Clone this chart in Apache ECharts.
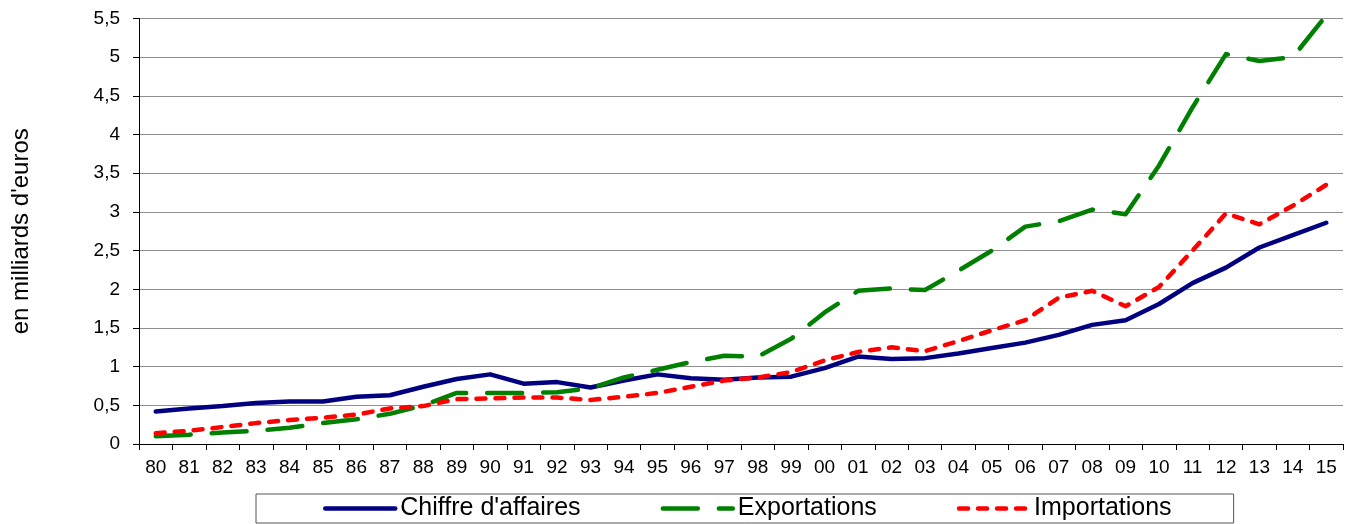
<!DOCTYPE html>
<html>
<head>
<meta charset="utf-8">
<script src="https://cdn.jsdelivr.net/npm/echarts@6/dist/echarts.min.js"></script>
<style>
  html, body { margin: 0; padding: 0; background: #fff; }
  #chart { width: 1354px; height: 524px; }
</style>
</head>
<body>
<div id="chart"></div>
<script>
// années (80 -> 15)
let years = ['80', '81', '82', '83', '84', '85', '86', '87', '88', '89',
  '90', '91', '92', '93', '94', '95', '96', '97', '98', '99',
  '00', '01', '02', '03', '04', '05', '06', '07', '08', '09',
  '10', '11', '12', '13', '14', '15']

let chiffreAffaires = [0.42, 0.46, 0.49, 0.53, 0.55, 0.55, 0.61, 0.63, 0.74, 0.84,
  0.90, 0.78, 0.80, 0.73, 0.82, 0.90, 0.85, 0.83, 0.86, 0.87,
  0.98, 1.13, 1.10, 1.11, 1.17, 1.24, 1.31, 1.41, 1.54, 1.60,
  1.81, 2.08, 2.28, 2.54, 2.70, 2.86]

let exportations = [0.10, 0.12, 0.15, 0.17, 0.21, 0.27, 0.32, 0.39, 0.50, 0.66,
  0.66, 0.66, 0.67, 0.72, 0.86, 0.96, 1.06, 1.14, 1.13, 1.36,
  1.70, 1.98, 2.01, 1.99, 2.24, 2.50, 2.81, 2.88, 3.03, 2.97,
  3.60, 4.35, 5.04, 4.95, 5.00, 5.54]

let importations = [0.14, 0.17, 0.22, 0.27, 0.31, 0.34, 0.38, 0.46, 0.49, 0.58,
  0.59, 0.60, 0.60, 0.57, 0.61, 0.66, 0.74, 0.82, 0.86, 0.93,
  1.08, 1.19, 1.25, 1.20, 1.33, 1.47, 1.60, 1.89, 1.98, 1.78,
  2.03, 2.50, 2.98, 2.84, 3.08, 3.35]

let yMin = 0
let yMax = 5.5
let yStep = 0.5

let font = 'Liberation Sans, Arial, sans-serif'
let chart = echarts.init(document.getElementById('chart'), null, { renderer: 'canvas' })

let option = {
  animation: false,
  textStyle: { fontFamily: font, color: '#000' },
  grid: {
    left: 139,
    right: 11,
    top: 18.5,
    bottom: 80
  },
  legend: {
    left: 256,
    bottom: 1,
    padding: [2, 62, 2, 67],
    itemGap: 80,
    itemWidth: 70,
    itemHeight: 8,
    borderColor: '#555',
    borderWidth: 1,
    // pas de symbole sur les icônes, seulement le trait
    itemStyle: { opacity: 0 },
    lineStyle: { width: 4.5, cap: 'round' },
    textStyle: { fontSize: 25, color: '#000', fontFamily: font },
    data: ["Chiffre d'affaires", 'Exportations', 'Importations']
  },
  xAxis: {
    type: 'category',
    data: years,
    boundaryGap: true,
    axisLine: { show: true, lineStyle: { color: '#000', width: 1 } },
    axisTick: { show: true, length: 6, lineStyle: { color: '#000' } },
    axisLabel: { color: '#000', fontSize: 19, margin: 14, interval: 0 },
    splitLine: { show: false }
  },
  yAxis: {
    type: 'value',
    min: yMin,
    max: yMax,
    interval: yStep,
    name: "en milliards d'euros",
    nameLocation: 'middle',
    nameGap: 106,
    nameRotate: 90,
    nameTextStyle: { fontSize: 24, color: '#000' },
    axisLine: { show: true, lineStyle: { color: '#000', width: 1 } },
    axisTick: { show: true, length: 6, lineStyle: { color: '#000' } },
    axisLabel: {
      color: '#000',
      fontSize: 19,
      margin: 19,
      formatter: function (v) { return String(v).replace('.', ',') }
    },
    splitLine: { show: true, lineStyle: { color: '#8f8f8f', width: 1 } }
  },
  series: [
    {
      name: "Chiffre d'affaires",
      type: 'line',
      data: chiffreAffaires,
      symbol: 'none',
      lineStyle: { color: '#000080', width: 4.5, cap: 'round', join: 'round' },
      itemStyle: { color: '#000080' }
    },
    {
      name: 'Exportations',
      type: 'line',
      data: exportations,
      symbol: 'none',
      lineStyle: { color: '#008000', width: 4.5, type: [35, 21], cap: 'round', join: 'round' },
      itemStyle: { color: '#008000' }
    },
    {
      name: 'Importations',
      type: 'line',
      data: importations,
      symbol: 'none',
      lineStyle: { color: '#ff0000', width: 4.5, type: [9, 10], cap: 'round', join: 'round' },
      itemStyle: { color: '#ff0000' }
    }
  ]
}

chart.setOption(option)
window.addEventListener('resize', () => {
  chart.resize()
})
</script>
</body>
</html>
